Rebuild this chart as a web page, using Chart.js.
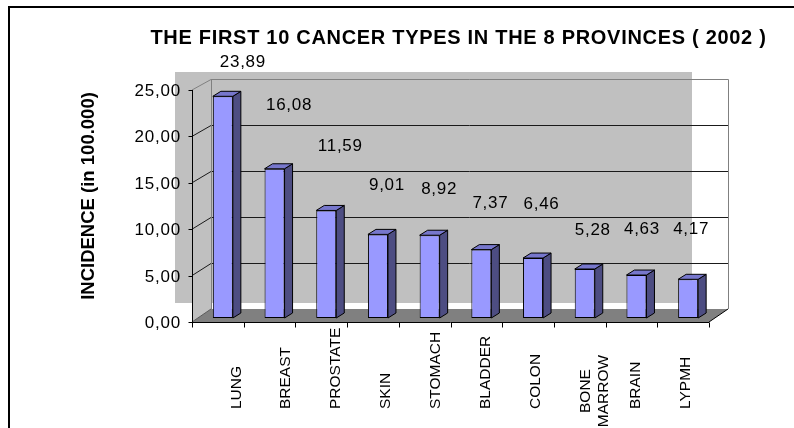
<!DOCTYPE html>
<html>
<head>
<meta charset="utf-8">
<script src="https://cdn.jsdelivr.net/npm/chart.js@4.4.1/dist/chart.umd.min.js"></script>
<style>
  html, body { margin: 0; padding: 0; background: #ffffff; }
  #wrap { width: 794px; height: 428px; overflow: hidden; }
</style>
</head>
<body>
<div id="wrap"><canvas id="c" width="794" height="428"></canvas></div>
<script>
// ---------- data ----------
const chartTitle = 'THE FIRST 10 CANCER TYPES IN THE 8 PROVINCES ( 2002 )';
const yAxisTitle = 'INCIDENCE (in 100.000)';
const categories = ['LUNG', 'BREAST', 'PROSTATE', 'SKIN', 'STOMACH', 'BLADDER', 'COLON', ['BONE', 'MARROW'], 'BRAIN', 'LYPMH'];
const incidence = [23.89, 16.08, 11.59, 9.01, 8.92, 7.37, 6.46, 5.28, 4.63, 4.17];
const yTickValues = [0, 5, 10, 15, 20, 25];

const fmt = v => v.toFixed(2).replace('.', ',');

// ---------- 3D look (styles / offsets, not data) ----------
const FONT = '"Liberation Sans", Arial, sans-serif';
const WALL = { dx: 19, dy: -13, k: 0.991 };      // back wall offset and perspective shrink
const BAR_SHIFT = { dx: 5, dy: -4 };             // bar front face relative to front axis
const BAR_DEPTH = { dx: 8, dy: -5 };             // bar depth
const LABEL_SHIFT = [[20, -35], [14.5, -65], [14, -65], [9, -50], [9.5, -47], [9, -48], [8.5, -55], [8, -40], [5.5, -47], [3, -51]];

function line(ctx, x1, y1, x2, y2, color, w) {
  ctx.beginPath();
  ctx.moveTo(x1, y1); ctx.lineTo(x2, y2);
  ctx.strokeStyle = color; ctx.lineWidth = w || 1;
  ctx.stroke();
}
function poly(ctx, pts, fill, stroke) {
  ctx.beginPath();
  ctx.moveTo(pts[0][0], pts[0][1]);
  for (let i = 1; i < pts.length; i++) ctx.lineTo(pts[i][0], pts[i][1]);
  ctx.closePath();
  if (fill) { ctx.fillStyle = fill; ctx.fill(); }
  if (stroke) { ctx.strokeStyle = stroke; ctx.lineWidth = 1; ctx.stroke(); }
}

const excel3d = {
  id: 'excel3d',
  beforeDraw(chart) {
    const ctx = chart.ctx;
    ctx.save();
    ctx.fillStyle = '#ffffff';
    ctx.fillRect(0, 0, chart.width, chart.height);
    ctx.restore();
  },
  beforeDatasetsDraw(chart) {
    const ctx = chart.ctx;
    const ca = chart.chartArea;
    const ys = chart.scales.y, xs = chart.scales.x;
    const L = ca.left, R = ca.right;
    const y0 = ys.getPixelForValue(0);
    const yF = v => ys.getPixelForValue(v);
    const yB = v => y0 + WALL.dy + (yF(v) - y0) * WALL.k;
    const top = yTickValues[yTickValues.length - 1];
    const bL = L + WALL.dx, bR = R + WALL.dx;

    ctx.save();
    // plot area background
    ctx.fillStyle = '#C0C0C0';
    ctx.fillRect(L - 17, ca.top - 18, (R - 17) - (L - 17), (ca.bottom - 19) - (ca.top - 18));

    // left wall
    poly(ctx, [[L, yF(top)], [bL, yB(top)], [bL, yB(0)], [L, y0]], '#C0C0C0', null);
    // floor
    poly(ctx, [[L, y0], [R, y0], [bR, yB(0)], [bL, yB(0)]], '#808080', null);

    ctx.lineCap = 'butt';
    // back wall gridlines and left wall diagonals
    yTickValues.forEach(v => {
      if (v === 0 || v === top) return;
      const yb = Math.round(yB(v)) + 0.5;
      line(ctx, bL, yb, bR, yb, '#1a1a1a', 1);
      line(ctx, L, yF(v), bL, yb, '#1a1a1a', 1);
    });
    // wall borders (gray)
    const yt = Math.round(yB(top)) + 0.5;
    line(ctx, bL, yt, bR + 0.5, yt, '#808080', 1);
    line(ctx, bR + 0.5, yt, bR + 0.5, yB(0), '#808080', 1);
    line(ctx, bL + 0.5, yt, bL + 0.5, yB(0), '#808080', 1);
    line(ctx, L, yF(top), bL, yt, '#808080', 1);
    // floor edges
    line(ctx, L, y0, bL, yB(0), '#5a5a5a', 1);
    line(ctx, R, y0, bR, yB(0), '#000000', 1);

    // y axis
    const ax = Math.round(L) + 0.5;
    line(ctx, ax, yF(top), ax, y0 + 0.5, '#000000', 1);
    ctx.font = '17px ' + FONT;
    ctx.fillStyle = '#000000';
    ctx.textAlign = 'right';
    ctx.textBaseline = 'alphabetic';
    ctx.letterSpacing = '0.8px';
    yTickValues.forEach(v => {
      const y = Math.round(yF(v)) + 0.5;
      line(ctx, ax - 4, y, ax, y, '#000000', 1);
      ctx.fillText(fmt(v), L - 11, yF(v) + 6);
    });
    ctx.letterSpacing = '0px';

    // x axis
    const xy = Math.round(y0) + 0.5;
    line(ctx, L, xy, R, xy, '#000000', 1);
    const n = categories.length;
    const cw = (R - L) / n;
    for (let i = 0; i <= n; i++) {
      const x = Math.round(L + i * cw) + 0.5;
      line(ctx, x, xy, x, xy + 5, '#000000', 1);
    }

    // category labels (rotated, bottom anchored)
    ctx.font = '15.5px ' + FONT;
    ctx.fillStyle = '#000000';
    categories.forEach((lab, i) => {
      const cx = xs.getPixelForValue(i) * 0.965 + 24.8;
      const lines = Array.isArray(lab) ? lab : [lab];
      lines.forEach((t, j) => {
        ctx.save();
        const x = cx + j * 18.5 + 5.5;
        if (lines.length > 1) {
          ctx.translate(x, 391);
          ctx.rotate(-Math.PI / 2);
          ctx.textAlign = 'center';
        } else {
          ctx.translate(x, 409);
          ctx.rotate(-Math.PI / 2);
          ctx.textAlign = 'left';
        }
        ctx.textBaseline = 'alphabetic';
        ctx.fillText(t, 0, 0);
        ctx.restore();
      });
    });

    // title
    ctx.font = 'bold 20px ' + FONT;
    ctx.textAlign = 'center';
    ctx.textBaseline = 'alphabetic';
    ctx.letterSpacing = '0.7px';
    ctx.fillText(chartTitle, 458.5, 44);
    ctx.letterSpacing = '0px';

    // y axis title
    ctx.save();
    ctx.font = 'bold 18.5px ' + FONT;
    ctx.translate(87 + 6.5, 196);
    ctx.rotate(-Math.PI / 2);
    ctx.textAlign = 'center';
    ctx.fillText(yAxisTitle, 0, 0);
    ctx.restore();

    // frame
    ctx.lineWidth = 2;
    ctx.strokeStyle = '#000000';
    ctx.beginPath();
    ctx.moveTo(9, chart.height + 10);
    ctx.lineTo(9, 7);
    ctx.lineTo(chart.width + 10, 7);
    ctx.stroke();
    ctx.restore();
  },
  beforeDatasetDraw(chart) {
    chart.ctx.save();
    chart.ctx.translate(BAR_SHIFT.dx, BAR_SHIFT.dy);
  },
  afterDatasetDraw(chart, args) {
    const ctx = chart.ctx;
    const meta = args.meta;
    meta.data.forEach(bar => {
      const p = bar.getProps(['x', 'y', 'base', 'width'], true);
      const l = p.x - p.width / 2, r = p.x + p.width / 2;
      const t = p.y, b = p.base;
      const dx = BAR_DEPTH.dx, dy = BAR_DEPTH.dy;
      ctx.lineJoin = 'miter';
      poly(ctx, [[r, t], [r + dx, t + dy], [r + dx, b + dy], [r, b]], '#4D4D82', '#000000');
      poly(ctx, [[l, t], [r, t], [r + dx, t + dy], [l + dx, t + dy]], '#7777CC', '#000000');
    });
    ctx.restore();
  },
  afterDatasetsDraw(chart) {
    const ctx = chart.ctx;
    const meta = chart.getDatasetMeta(0);
    ctx.save();
    ctx.font = '17px ' + FONT;
    ctx.fillStyle = '#000000';
    ctx.textAlign = 'center';
    ctx.textBaseline = 'alphabetic';
    ctx.letterSpacing = '0.7px';
    meta.data.forEach((bar, i) => {
      const p = bar.getProps(['x', 'y'], true);
      const x = p.x + BAR_SHIFT.dx + LABEL_SHIFT[i][0];
      const y = p.y + BAR_SHIFT.dy + LABEL_SHIFT[i][1];
      ctx.fillText(fmt(incidence[i]), x, y + 6);
    });
    ctx.restore();
  }
};

new Chart(document.getElementById('c'), {
  type: 'bar',
  data: {
    labels: categories,
    datasets: [{
      data: incidence,
      backgroundColor: '#9999FF',
      borderColor: '#000000',
      borderWidth: 1,
      borderSkipped: false,
      barPercentage: 0.387,
      categoryPercentage: 1.0
    }]
  },
  options: {
    responsive: false,
    animation: false,
    devicePixelRatio: 1,
    layout: { padding: { left: 192, right: 85, top: 90, bottom: 106 } },
    scales: {
      x: { display: false, offset: true },
      y: { display: false, min: 0, max: 25, ticks: { stepSize: 5 } }
    },
    plugins: {
      legend: { display: false },
      tooltip: { enabled: false },
      title: { display: false }
    }
  },
  plugins: [excel3d]
});
</script>
</body>
</html>
